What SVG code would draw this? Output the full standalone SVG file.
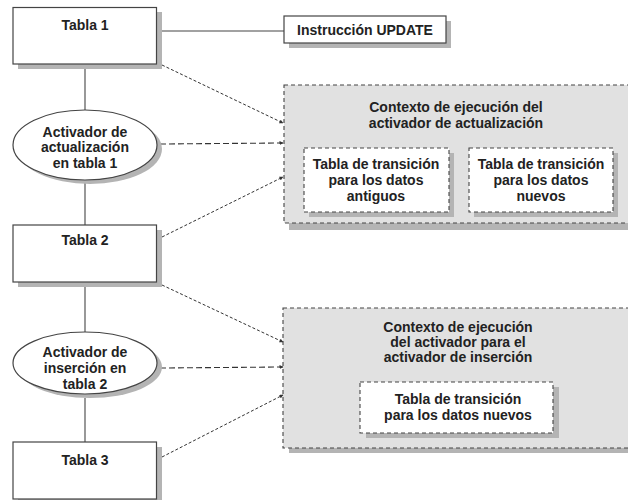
<svg xmlns="http://www.w3.org/2000/svg" width="628" height="500" viewBox="0 0 628 500">
<defs>
<style>
.box{fill:#fff;stroke:#444;stroke-width:1.2}
.sh{fill:#b4b4b4}
.ctx{fill:#e1e1e1;stroke:#444;stroke-width:1.1;stroke-dasharray:4 3}
.inner{fill:#fff;stroke:#444;stroke-width:1.1;stroke-dasharray:4 3}
.t{font-family:"Liberation Sans",Arial,sans-serif;font-weight:bold;font-size:14px;fill:#222;text-anchor:middle}
.solid{stroke:#444;stroke-width:1.1;fill:none}
.dot{stroke:#333;stroke-width:1;fill:none;stroke-dasharray:3 2;marker-end:url(#ah)}
.dash{stroke:#333;stroke-width:1.1;fill:none;stroke-dasharray:6 3;marker-end:url(#ah)}
</style>
<marker id="ah" markerWidth="4" markerHeight="4" refX="3.5" refY="2" orient="auto" markerUnits="userSpaceOnUse">
<path d="M0,0 L4,2 L0,4 z" fill="#333"/>
</marker>
</defs>
<g id="ctx1">
<rect class="sh" x="289" y="90" width="345" height="140"/>
<rect class="ctx" x="284" y="85" width="350" height="138"/>
<text class="t" x="456" y="112">Contexto de ejecución del</text>
<text class="t" x="456" y="128">activador de actualización</text>
</g>
<g id="old">
<rect class="sh" x="309" y="153" width="145" height="64"/>
<rect class="inner" x="304" y="148" width="145" height="64"/>
<text class="t" x="376" y="169">Tabla de transición</text>
<text class="t" x="376" y="185">para los datos</text>
<text class="t" x="376" y="201">antiguos</text>
</g>
<g id="new1">
<rect class="sh" x="474" y="153" width="144" height="64"/>
<rect class="inner" x="469" y="148" width="144" height="64"/>
<text class="t" x="541" y="169">Tabla de transición</text>
<text class="t" x="541" y="185">para los datos</text>
<text class="t" x="541" y="201">nuevos</text>
</g>
<g id="ctx2">
<rect class="sh" x="289" y="313" width="345" height="140"/>
<rect class="ctx" x="283" y="308" width="351" height="140"/>
<text class="t" x="458" y="332">Contexto de ejecución</text>
<text class="t" x="458" y="347">del activador para el</text>
<text class="t" x="458" y="362">activador de inserción</text>
</g>
<g id="new2">
<rect class="sh" x="366" y="387" width="193" height="51"/>
<rect class="inner" x="360" y="382" width="193" height="51"/>
<text class="t" x="458" y="404">Tabla de transición</text>
<text class="t" x="458" y="420">para los datos nuevos</text>
</g>
<g id="connectors">
<line class="solid" x1="156" y1="31" x2="284" y2="31"/>
<line class="solid" x1="85" y1="64" x2="85" y2="110"/>
<line class="solid" x1="85" y1="180" x2="85" y2="225"/>
<line class="solid" x1="85" y1="287" x2="85" y2="332"/>
<line class="solid" x1="85" y1="398" x2="85" y2="442"/>
<line class="dot" x1="162" y1="65" x2="283" y2="123"/>
<line class="dash" x1="160" y1="144" x2="283" y2="143"/>
<line class="dot" x1="162" y1="237" x2="283" y2="177"/>
<line class="dot" x1="162" y1="285" x2="283" y2="342"/>
<line class="dash" x1="160" y1="368" x2="283" y2="367"/>
<line class="dot" x1="162" y1="457" x2="283" y2="395"/>
</g>
<g id="update">
<rect class="sh" x="289" y="21" width="162" height="27"/>
<rect class="box" x="284" y="16" width="162" height="27"/>
<text class="t" x="365" y="35">Instrucción UPDATE</text>
</g>
<g id="tabla1">
<rect class="sh" x="18" y="12" width="144" height="57"/>
<rect class="box" x="13" y="7.5" width="143.5" height="56.5"/>
<text class="t" x="85" y="30">Tabla 1</text>
</g>
<g id="act1">
<ellipse class="sh" cx="90" cy="149" rx="72" ry="35"/>
<ellipse class="box" cx="85" cy="145" rx="72" ry="35"/>
<text class="t" x="85" y="137">Activador de</text>
<text class="t" x="85" y="152">actualización</text>
<text class="t" x="85" y="168">en tabla 1</text>
</g>
<g id="tabla2">
<rect class="sh" x="18" y="230" width="144" height="57"/>
<rect class="box" x="13" y="225" width="143.5" height="57"/>
<text class="t" x="85" y="245">Tabla 2</text>
</g>
<g id="act2">
<ellipse class="sh" cx="90" cy="367" rx="72" ry="31"/>
<ellipse class="box" cx="85" cy="363" rx="72" ry="31"/>
<text class="t" x="85" y="357">Activador de</text>
<text class="t" x="85" y="373">inserción en</text>
<text class="t" x="85" y="389">tabla 2</text>
</g>
<g id="tabla3">
<rect class="sh" x="18" y="447" width="144" height="57"/>
<rect class="box" x="13" y="442" width="143.5" height="57"/>
<text class="t" x="85" y="465">Tabla 3</text>
</g>
</svg>
